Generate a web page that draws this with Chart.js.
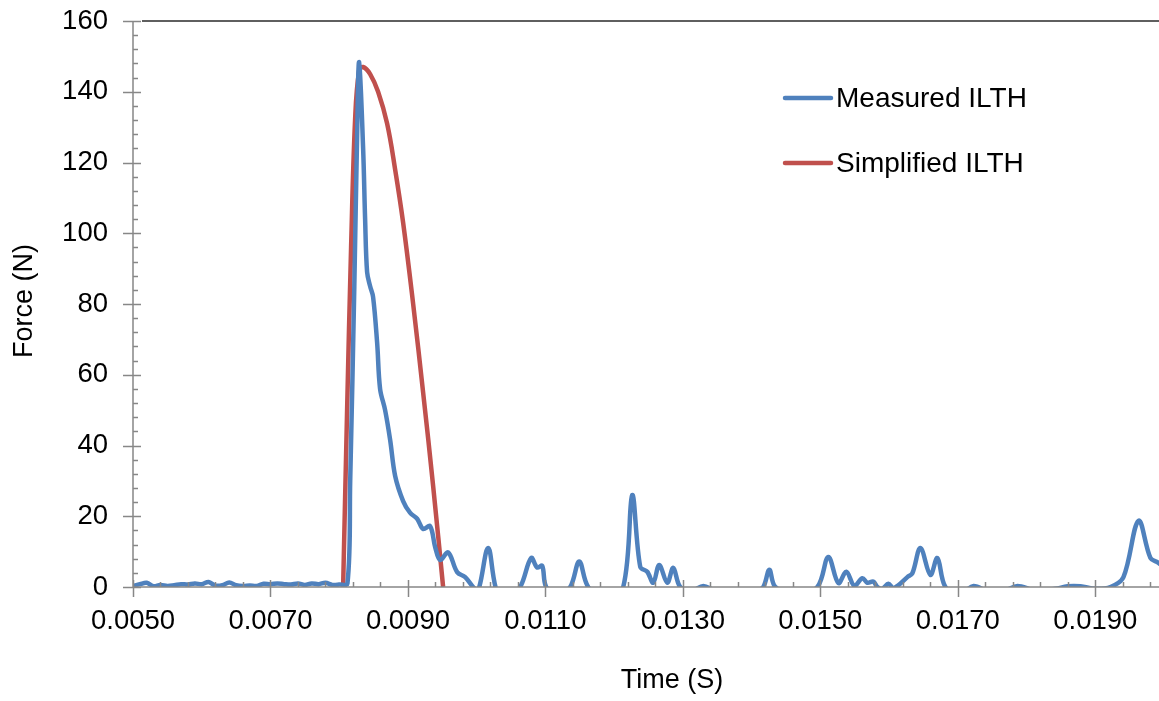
<!DOCTYPE html>
<html>
<head>
<meta charset="utf-8">
<script src="https://cdn.jsdelivr.net/npm/chart.js@4.4.1/dist/chart.umd.min.js"></script>
<style>
  html, body { margin: 0; padding: 0; background: #fff; overflow: hidden; }
  #wrap { width: 1170px; height: 701px; }
</style>
</head>
<body>
<div id="wrap"><canvas id="ilthChart" width="1170" height="701"></canvas></div>
<script>
// Data (time in s, force in N)
const measuredTime = [
  0.0050, 0.0051, 0.0052, 0.0053, 0.0054, 0.0055, 0.0056, 0.0057, 0.0058, 0.0059,
  0.0060, 0.0061, 0.0062, 0.0063, 0.0064, 0.0065, 0.0066, 0.0067, 0.0068, 0.0069,
  0.0070, 0.0071, 0.0072, 0.0073, 0.0074, 0.0075, 0.0076, 0.0077, 0.0078, 0.0079,
  0.0080, 0.00812, 0.00816, 0.00822, 0.00826, 0.00829, 0.008348, 0.008377, 0.008406, 0.00845,
  0.008493, 0.008552, 0.008595, 0.008668, 0.008741, 0.008814, 0.00893, 0.00903, 0.009134, 0.009221,
  0.009323, 0.009396, 0.009469, 0.009585, 0.009716, 0.009833, 0.009949, 0.010022, 0.010167, 0.010298,
  0.01046, 0.010633, 0.010793, 0.010881, 0.010953, 0.011012, 0.011186, 0.011361, 0.011492, 0.011623,
  0.01187, 0.012132, 0.012263, 0.01238, 0.012482, 0.012569, 0.012656, 0.012773, 0.01286, 0.012962,
  0.013137, 0.013297, 0.013472, 0.013763, 0.014054, 0.01417, 0.014258, 0.014345, 0.014636, 0.014956,
  0.015116, 0.015262, 0.015378, 0.015495, 0.015611, 0.015684, 0.015771, 0.01583, 0.0159, 0.01599,
  0.01606, 0.016135, 0.016266, 0.016339, 0.016456, 0.016601, 0.016703, 0.01682, 0.01704, 0.017227,
  0.01747, 0.01769, 0.017868, 0.01813, 0.01842, 0.018595, 0.018785, 0.0190, 0.019221, 0.01941,
  0.019629, 0.019803, 0.01992, 0.02002
];
const measuredForce = [
  0.3, 0.8, 1.2, 0.2, 0.6, 0.3, 0.5, 0.8, 0.7, 1.0,
  0.8, 1.4, 0.4, 0.5, 1.3, 0.5, 0.3, 0.4, 0.3, 0.9,
  0.8, 1.0, 0.8, 0.7, 1.0, 0.6, 1.0, 0.8, 1.2, 0.6,
  0.7, 1.0, 30, 85, 127, 148.4, 124, 104, 89, 85,
  82, 69, 56, 50, 41.6, 31.4, 24.3, 21, 19.3, 16.4,
  17.2, 11.3, 7.6, 9.8, 4.2, 2.8, 0, -1, 11, -1.5,
  -3, 0, 8.2, 5.5, 6, 0, -2, 0, 7.2, 0,
  -3, 0, 26, 5.7, 4.3, 1.2, 6.2, 1.2, 5.4, 0,
  -1, 0.3, -1, -1.5, -1, 0, 4.9, 0, -2, 0,
  8.5, 1.1, 4.3, 0.3, 2.5, 1.2, 1.5, 0, -0.5, 0.9,
  -0.3, 0.5, 2.8, 3.9, 11, 3.4, 8.2, 0, -2, 0.3,
  -1.5, -1, 0.3, -1, -0.5, 0.2, 0.2, -0.5, 0, 2.8,
  18.7, 8.2, 6.8, 5
];
const simplifiedTime = [
  0.008057, 0.008115, 0.008173, 0.008231, 0.008290, 0.008348, 0.008450, 0.008566,
  0.008697, 0.008814, 0.008930, 0.009076, 0.009221, 0.009367, 0.009512
];
const simplifiedForce = [
  0, 50, 96, 132, 146, 147, 145, 140,
  131, 118, 103, 80, 55, 28.5, 0
];
const xTicks = [0.005, 0.007, 0.009, 0.011, 0.013, 0.015, 0.017, 0.019];
const yTicks = [0, 20, 40, 60, 80, 100, 120, 140, 160];
const seriesNames = ['Measured ILTH', 'Simplified ILTH'];

const FONT = '"Liberation Sans", Arial, sans-serif';
const AXIS = '#878787';

const toPoints = (xs, ys) => xs.map((x, i) => ({ x: x, y: ys[i] }));

// axis lines, crossing major ticks, inner minor ticks, titles and legend
const decorations = {
  id: 'decorations',
  afterDraw(chart) {
    const ctx = chart.ctx;
    const xs = chart.scales.x, ys = chart.scales.y;
    const area = chart.chartArea;
    const y0 = ys.getPixelForValue(0);
    const x0 = xs.getPixelForValue(0.005);
    ctx.save();
    ctx.strokeStyle = AXIS;
    ctx.lineWidth = 1.5;
    ctx.beginPath();
    ctx.moveTo(area.left, area.top); ctx.lineTo(area.left, y0);
    ctx.moveTo(area.left, y0); ctx.lineTo(area.right, y0);
    for (let v = 0; v <= 160; v += 4) {
      const py = Math.round(ys.getPixelForValue(v)) + 0.5;
      if (v % 20 === 0) { ctx.moveTo(x0 - 10, py); ctx.lineTo(x0 + 8, py); }
      else { ctx.moveTo(x0, py); ctx.lineTo(x0 + 5, py); }
    }
    for (let k = 0; k <= 37; k++) {
      const v = 0.005 + k * 0.0004;
      const px = Math.round(xs.getPixelForValue(v)) + 0.5;
      if (px > area.right) break;
      if (k % 5 === 0) { ctx.moveTo(px, y0 - 7); ctx.lineTo(px, y0 + 10); }
      else { ctx.moveTo(px, y0 - 5); ctx.lineTo(px, y0); }
    }
    ctx.stroke();
    // top border
    ctx.strokeStyle = '#5f5f5f';
    ctx.lineWidth = 2;
    ctx.beginPath();
    ctx.moveTo(area.left + 9, area.top); ctx.lineTo(area.right, area.top);
    ctx.stroke();

    // axis titles
    ctx.fillStyle = '#000';
    ctx.font = '27px ' + FONT;
    ctx.textAlign = 'center';
    ctx.textBaseline = 'middle';
    ctx.fillText('Time (S)', 672, 681);
    ctx.save();
    ctx.translate(25, 301);
    ctx.rotate(-Math.PI / 2);
    ctx.fillText('Force (N)', 0, 0);
    ctx.restore();

    // legend
    ctx.font = '28px ' + FONT;
    ctx.textAlign = 'left';
    chart.data.datasets.forEach((ds, i) => {
      const ly = 98 + i * 65;
      ctx.strokeStyle = ds.borderColor;
      ctx.lineWidth = 4.5;
      ctx.lineCap = 'round';
      ctx.beginPath();
      ctx.moveTo(785, ly); ctx.lineTo(831, ly);
      ctx.stroke();
      ctx.fillText(ds.label, 836, ly + 1);
    });
    ctx.restore();
  }
};

new Chart(document.getElementById('ilthChart'), {
  type: 'line',
  data: {
    datasets: [
      {
        label: seriesNames[0],
        data: toPoints(measuredTime, measuredForce),
        borderColor: '#4F81BD',
        borderWidth: 4.5,
        pointRadius: 0,
        tension: 0.35,
        fill: false
      },
      {
        label: seriesNames[1],
        data: toPoints(simplifiedTime, simplifiedForce),
        borderColor: '#C0504D',
        borderWidth: 4.5,
        pointRadius: 0,
        tension: 0.4,
        fill: false
      }
    ]
  },
  plugins: [decorations],
  options: {
    responsive: false,
    animation: false,
    layout: { padding: { top: 21, right: 6, left: 0, bottom: 0 } },
    plugins: { legend: { display: false }, tooltip: { enabled: false } },
    scales: {
      x: {
        type: 'linear',
        min: 0.005,
        max: 0.020,
        grid: { display: false, drawTicks: false },
        border: { display: false },
        afterBuildTicks: (scale) => { scale.ticks = xTicks.map(v => ({ value: v })); },
        afterFit: (scale) => { scale.height = 114; scale.paddingLeft = 0; scale.paddingRight = 0; },
        ticks: {
          padding: 18,
          maxRotation: 0,
          autoSkip: false,
          color: '#000',
          font: { family: FONT, size: 27.5 },
          callback: (v) => Number(v).toFixed(4)
        }
      },
      y: {
        min: 0,
        max: 160,
        grid: { display: false, drawTicks: false },
        border: { display: false },
        afterBuildTicks: (scale) => { scale.ticks = yTicks.map(v => ({ value: v })); },
        afterFit: (scale) => { scale.width = 133; scale.paddingTop = 0; scale.paddingBottom = 0; },
        ticks: {
          padding: 25,
          color: '#000',
          font: { family: FONT, size: 27.5 }
        }
      }
    }
  }
});
</script>
</body>
</html>
